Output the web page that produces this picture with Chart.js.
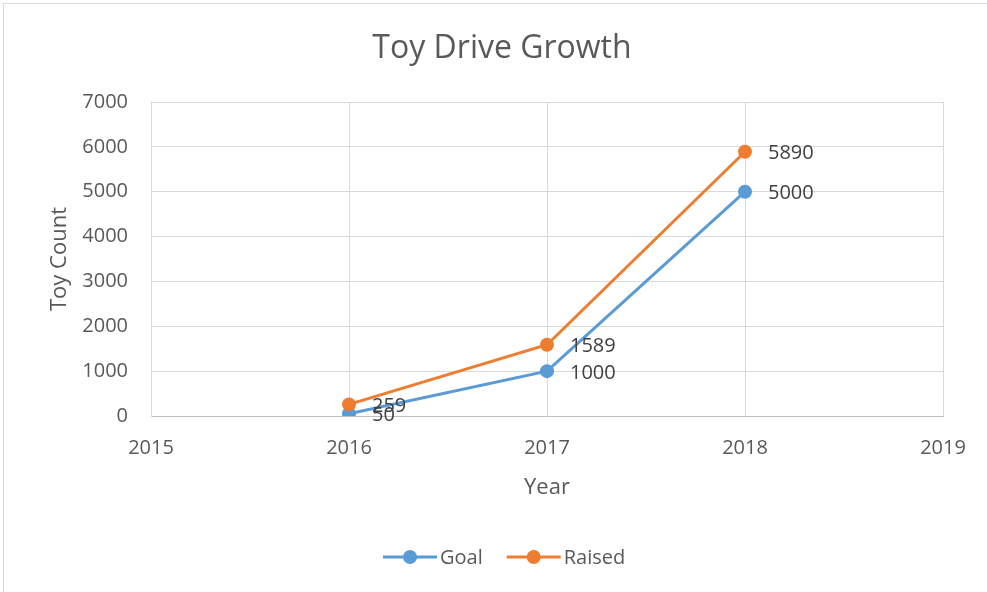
<!DOCTYPE html>
<html><head><meta charset="utf-8">
<script src="https://cdn.jsdelivr.net/npm/chart.js@4"></script>
<style>
html,body{margin:0;padding:0;background:#fff;overflow:hidden}
#wrap{position:relative;width:987px;height:592px}
#frame{position:absolute;left:3px;top:3px;width:1000px;height:1000px;border:1px solid #d9d9d9;box-sizing:border-box;pointer-events:none}
canvas{position:absolute;left:0;top:0}
</style></head><body>
<div id="wrap"><canvas id="c" width="987" height="592"></canvas><div id="frame"></div></div>
<script>
const chartTitle = 'Toy Drive Growth';
const years = [2016, 2017, 2018];
const seriesNames = ['Goal', 'Raised'];
const goal = [50, 1000, 5000];
const raised = [259, 1589, 5890];
const xMin = 2015, xMax = 2019, xStep = 1;
const yMin = 0, yMax = 7000, yStep = 1000;
const xTitle = 'Year';
const yTitle = 'Toy Count';

const colors = ['#5B9BD5', '#ED7D31'];
const FONT = "'Open Sans', 'DejaVu Sans', sans-serif";
const TEXT = '#595959';

function pts(vals) { return years.map((x, i) => ({x: x, y: vals[i]})); }

const titlePlugin = {
  id: 'customTitle',
  afterDraw(chart) {
    const ctx = chart.ctx;
    ctx.save();
    ctx.font = '32px ' + FONT;
    ctx.fillStyle = TEXT;
    ctx.textAlign = 'center';
    ctx.textBaseline = 'alphabetic';
    ctx.fillText(chartTitle, 502, 58);
    ctx.restore();
  }
};

const labelPlugin = {
  id: 'dataLabels',
  afterDatasetsDraw(chart) {
    const ctx = chart.ctx;
    ctx.save();
    ctx.font = '20px ' + FONT;
    ctx.fillStyle = '#404040';
    ctx.textAlign = 'left';
    ctx.textBaseline = 'middle';
    chart.data.datasets.forEach((ds, di) => {
      const meta = chart.getDatasetMeta(di);
      meta.data.forEach((el, i) => {
        ctx.fillText(String(ds.data[i].y), el.x + 23, el.y + 2);
      });
    });
    ctx.restore();
  }
};

const legendPlugin = {
  id: 'customLegend',
  afterDraw(chart) {
    const ctx = chart.ctx;
    ctx.save();
    ctx.font = '20px ' + FONT;
    ctx.textBaseline = 'middle';
    ctx.textAlign = 'left';
    const y = 557;
    let x = 383;
    chart.data.datasets.forEach((ds) => {
      ctx.strokeStyle = ds.borderColor;
      ctx.lineWidth = 3;
      ctx.beginPath();
      ctx.moveTo(x, y);
      ctx.lineTo(x + 54, y);
      ctx.stroke();
      ctx.fillStyle = ds.backgroundColor;
      ctx.beginPath();
      ctx.arc(x + 27, y, 7, 0, Math.PI * 2);
      ctx.fill();
      ctx.fillStyle = TEXT;
      ctx.fillText(ds.label, x + 57, y + 1);
      x += 57 + ctx.measureText(ds.label).width + 24;
    });
    ctx.restore();
  }
};

new Chart(document.getElementById('c'), {
  type: 'line',
  data: {
    datasets: [
      {label: seriesNames[0], data: pts(goal), borderColor: colors[0], backgroundColor: colors[0], borderWidth: 3, pointRadius: 7, pointBorderWidth: 0, pointBackgroundColor: colors[0], order: 1, tension: 0},
      {label: seriesNames[1], data: pts(raised), borderColor: colors[1], backgroundColor: colors[1], borderWidth: 3, pointRadius: 7, pointBorderWidth: 0, pointBackgroundColor: colors[1], order: 0, tension: 0}
    ]
  },
  options: {
    responsive: false,
    animation: false,
    devicePixelRatio: 1,
    layout: {padding: {left: 0, right: 44, top: 102, bottom: 76}},
    plugins: {
      legend: {display: false},
      tooltip: {enabled: false},
      title: {display: false}
    },
    scales: {
      x: {
        type: 'linear', position: 'bottom', min: xMin, max: xMax,
        ticks: {stepSize: xStep, callback: v => String(v), color: TEXT, font: {family: FONT, size: 20}, padding: 20, maxRotation: 0},
        grid: {color: '#D9D9D9', drawTicks: false, lineWidth: 1},
        border: {color: '#BFBFBF', width: 1},
        title: {display: true, text: xTitle, color: TEXT, font: {family: FONT, size: 22}, padding: {top: 0, bottom: 15}},
        afterFit: s => { s.height = 100; }
      },
      y: {
        position: 'left', min: yMin, max: yMax,
        ticks: {stepSize: yStep, color: TEXT, font: {family: FONT, size: 20}, padding: 23, callback: v => String(v)},
        grid: {color: '#D9D9D9', drawTicks: false, lineWidth: 1},
        border: {color: '#D9D9D9', width: 1},
        title: {display: true, text: yTitle, color: TEXT, font: {family: FONT, size: 22}, padding: {top: 47, bottom: 0}},
        afterFit: s => { s.width = 151; }
      }
    }
  },
  plugins: [titlePlugin, labelPlugin, legendPlugin]
});
</script>
</body></html>
